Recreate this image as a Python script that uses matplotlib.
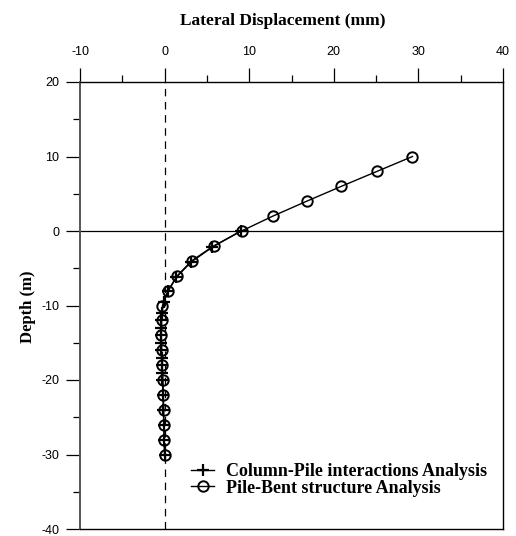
import matplotlib
matplotlib.use("Agg")
import matplotlib.pyplot as plt
from matplotlib.ticker import MultipleLocator

plt.rcParams["axes.unicode_minus"] = False

# Data
bent_depth = [10, 8, 6, 4, 2, 0, -2, -4, -6, -8, -10, -12, -14, -16, -18, -20, -22, -24, -26, -28, -30]
bent_disp = [29.3, 25.1, 20.9, 16.8, 12.8, 9.1, 5.8, 3.2, 1.5, 0.45, -0.25, -0.35, -0.4, -0.35, -0.3,
             -0.2, -0.15, -0.1, -0.1, -0.05, 0.0]
col_depth = [0, -2.2, -4.2, -6.2, -8, -9.5, -11, -12, -13, -14, -15, -16, -17, -18, -19, -20,
             -22, -24, -26, -28, -30]
col_disp = [9.0, 5.6, 3.1, 1.4, 0.4, -0.1, -0.3, -0.4, -0.45, -0.45, -0.4, -0.4, -0.35, -0.3,
            -0.3, -0.25, -0.2, -0.15, -0.1, -0.05, 0.0]

xticks = [-10, 0, 10, 20, 30, 40]
yticks = [20, 10, 0, -10, -20, -30, -40]

W, H = 516, 536
fig = plt.figure(figsize=(W / 100, H / 100), dpi=100)
ax = fig.add_axes([80 / W, 1 - 529 / H, (503 - 80) / W, (529 - 82) / H])

serif = "Liberation Serif"
sans = "Liberation Sans"

ax.axhline(0, color="black", lw=0.9, zorder=1)
ax.axvline(0, color="black", lw=0.9, ls=(0, (6, 4.5)), zorder=1)

ax.plot(col_disp, col_depth, color="black", lw=1.0, marker="+", ms=9, mew=1.6,
        label="Column-Pile interactions Analysis", zorder=3)
ax.plot(bent_disp, bent_depth, color="black", lw=1.0, marker="o", ms=7.5, mew=1.4,
        mfc="none", label="Pile-Bent structure Analysis", zorder=3)

ax.set_xlim(-10, 40)
ax.set_ylim(-40, 20)
ax.set_xticks(xticks)
ax.set_yticks(yticks)
ax.xaxis.set_minor_locator(MultipleLocator(5))
ax.yaxis.set_minor_locator(MultipleLocator(5))
ax.xaxis.tick_top()
ax.tick_params(axis="x", which="both", top=True, bottom=False, direction="out")
ax.tick_params(axis="y", which="both", left=True, right=False, direction="out")
ax.tick_params(which="major", length=10, width=0.9, labelsize=9, color="black")
ax.tick_params(which="minor", length=5, width=0.9, color="black")
ax.tick_params(axis="x", which="major", pad=7)
ax.tick_params(axis="y", which="major", pad=5)
for lab in ax.get_xticklabels() + ax.get_yticklabels():
    lab.set_fontfamily(sans)

for s in ax.spines.values():
    s.set_linewidth(1.0)
    s.set_color("black")
ax.spines["left"].set_color("#555555")
ax.spines["left"].set_linewidth(1.4)

fig.text(283 / W, 1 - 21 / H, "Lateral Displacement (mm)", ha="center", va="center",
         fontfamily=serif, fontweight="bold", fontsize=12.5)
fig.text(28 / W, 1 - 307 / H, "Depth (m)", ha="center", va="center", rotation=90,
         fontfamily=serif, fontweight="bold", fontsize=12)

handles, labels = ax.get_legend_handles_labels()
leg = fig.legend(handles, labels, loc="center left", bbox_to_anchor=(191 / W, 1 - 480 / H),
                 frameon=False,
                 prop={"family": serif, "weight": "bold", "size": 13},
                 handlelength=1.3, handletextpad=0.65, labelspacing=-0.05,
                 borderaxespad=0, borderpad=0)

fig.savefig("out.png", dpi=100)
